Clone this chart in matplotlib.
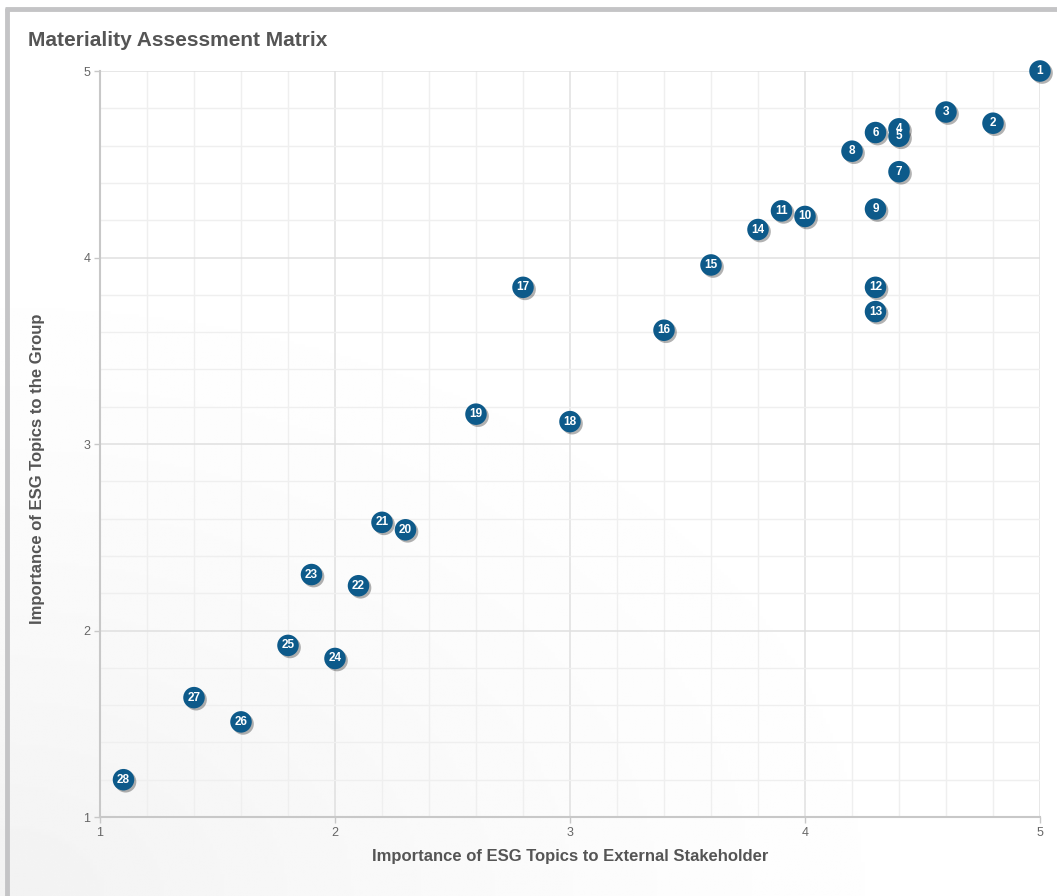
import numpy as np
import matplotlib
matplotlib.use('Agg')
import matplotlib.pyplot as plt
import matplotlib.patheffects as pe
from matplotlib.ticker import MultipleLocator

# ESG topic scores: external stakeholder importance (x) vs group importance (y)
topic_ids = list(range(1, 29))
external_scores = [5.0, 4.8, 4.6, 4.4, 4.4, 4.3, 4.4, 4.2, 4.3, 4.0,
                   3.9, 4.3, 4.3, 3.8, 3.6, 3.4, 2.8, 3.0, 2.6, 2.3,
                   2.2, 2.1, 1.9, 2.0, 1.8, 1.6, 1.4, 1.1]
group_scores = [5.0, 4.72, 4.78, 4.69, 4.65, 4.67, 4.46, 4.57, 4.26, 4.22,
                4.25, 3.84, 3.71, 4.15, 3.96, 3.61, 3.84, 3.12, 3.16, 2.54,
                2.58, 2.24, 2.30, 1.85, 1.92, 1.51, 1.64, 1.20]

marker_color = '#0d5a8a'
text_color = '#555555'

plt.rcParams['font.family'] = ['Liberation Sans', 'DejaVu Sans']

fig = plt.figure(figsize=(10.57, 8.96), dpi=100)

# soft grey haze in the lower-left corner of the card
bg = fig.add_axes([0, 0, 1, 1], zorder=-2)
yy, xx = np.mgrid[0:1:300j, 0:1:300j]
dist = np.sqrt((xx / 1.0) ** 2 + ((yy) / 0.8) ** 2)
shade = np.clip(1 - dist, 0, 1) ** 1.5
bg.imshow(1 - 0.05 * shade, cmap='gray', vmin=0, vmax=1, origin='lower',
          extent=[0, 1, 0, 1], aspect='auto', interpolation='bilinear')
bg.set_xlim(0, 1)
bg.set_ylim(0, 1)
# grey card border along the top and left edges
bg.plot([0.005, 1], [0.9894, 0.9894], color='#c4c4c6', lw=3.5, solid_capstyle='butt')
bg.plot([0.0068, 0.0068], [0, 0.9914], color='#c4c4c6', lw=3.5, solid_capstyle='butt')
bg.axis('off')

ax = fig.add_axes([100 / 1057, 1 - 817 / 896, 940 / 1057, 746 / 896])
ax.set_facecolor('none')
ax.set_xlim(1, 5)
ax.set_ylim(1, 5)

ax.xaxis.set_major_locator(MultipleLocator(1))
ax.yaxis.set_major_locator(MultipleLocator(1))
ax.xaxis.set_minor_locator(MultipleLocator(0.2))
ax.yaxis.set_minor_locator(MultipleLocator(0.2))
ax.grid(which='major', color='#e0e0e0', lw=1.1)
ax.grid(which='minor', color='#efefef', lw=1.0)
ax.set_axisbelow(True)

for side in ['top', 'right']:
    ax.spines[side].set_visible(False)
for side in ['left', 'bottom']:
    ax.spines[side].set_color('#c8c8c8')
    ax.spines[side].set_linewidth(1.5)

ax.tick_params(which='major', length=4, width=1, color='#c8c8c8',
               labelsize=9, labelcolor='#666666', pad=3)
ax.tick_params(which='minor', length=0)

ax.set_xlabel('Importance of ESG Topics to External Stakeholder', fontsize=12,
              fontweight='bold', color=text_color)
ax.xaxis.set_label_coords(0.5, -0.043)
ax.xaxis.label.set_va('top')
ax.set_ylabel('Importance of ESG Topics to the Group', fontsize=12,
              fontweight='bold', color=text_color)
ax.yaxis.set_label_coords(-0.059, 0.467)

fig.text(28 / 1057, 1 - 41 / 896, 'Materiality Assessment Matrix', fontsize=15,
         fontweight='bold', color=text_color, va='center', ha='left')

dots = ax.scatter(external_scores, group_scores, s=240, color=marker_color,
                  edgecolor='none', zorder=3, clip_on=False)
dots.set_path_effects([pe.SimplePatchShadow(offset=(1.5, -1.5), shadow_rgbFace='#000000',
                                            alpha=0.3), pe.Normal()])

for tid, x, y in zip(topic_ids, external_scores, group_scores):
    ax.text(x, y, str(tid), color='white', fontsize=8.5, fontweight='bold',
            ha='center', va='center', zorder=4, clip_on=False)

fig.savefig('out.png', dpi=100)
